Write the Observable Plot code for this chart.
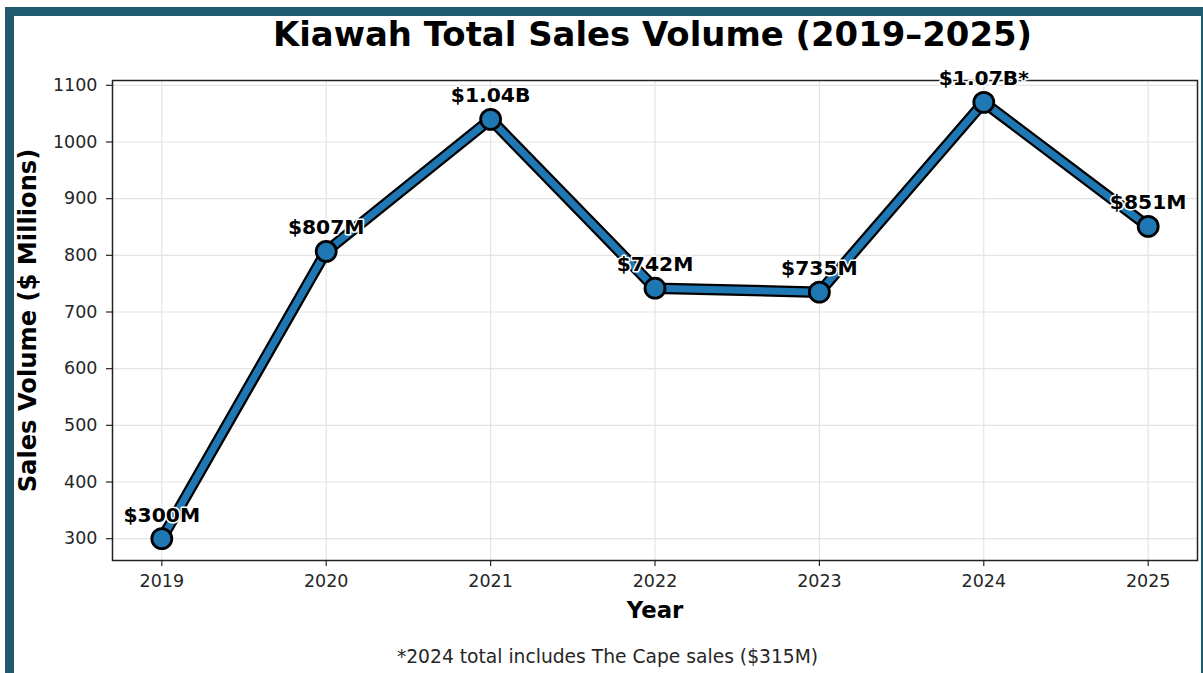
<!DOCTYPE html>
<html>
<head>
<meta charset="utf-8">
<script src="https://cdn.jsdelivr.net/npm/d3@7"></script>
<script src="https://cdn.jsdelivr.net/npm/@observablehq/plot@0.6"></script>
<style>
  html, body { margin: 0; padding: 0; background: #fff; overflow: hidden; }
  #card {
    position: absolute; left: 5px; top: 7px;
    width: 1205px; height: 720px; box-sizing: border-box;
    border: 9px solid #1f5a6e; background: #fff;
    font-family: "DejaVu Sans", sans-serif;
  }
  #title {
    margin: 0; padding-left: 90px; height: 38px; line-height: 38px;
    text-align: center; font-size: 33.9px; font-weight: bold; color: #000;
  }
  #chart svg { display: block; }
  #note {
    margin-top: 11px; height: 24px; line-height: 24px;
    text-align: center; font-size: 18.7px; color: #262626;
  }
</style>
</head>
<body>
<div id="card">
  <div id="title">Kiawah Total Sales Volume (2019–2025)</div>
  <div id="chart"></div>
  <div id="note">*2024 total includes The Cape sales ($315M)</div>
</div>
<script>
const years = [2019, 2020, 2021, 2022, 2023, 2024, 2025];
const volumes = [300, 807, 1040, 742, 735, 1070, 851];
const pointLabels = ["$300M", "$807M", "$1.04B", "$742M", "$735M", "$1.07B*", "$851M"];
const yTicks = [300, 400, 500, 600, 700, 800, 900, 1000, 1100];
const xTitle = "Year";
const yTitle = "Sales Volume ($ Millions)";

const data = years.map((year, i) => ({year, volume: volumes[i], label: pointLabels[i]}));

const chart = Plot.plot({
  width: 1187,
  height: 580,
  marginTop: 26,
  marginBottom: 74,
  marginLeft: 98,
  marginRight: 4,
  style: {fontFamily: "DejaVu Sans, sans-serif", color: "#262626", background: "transparent"},
  x: {domain: [2018.7, 2025.3]},
  y: {domain: [261.5, 1108.5]},
  marks: [
    Plot.gridX(years, {stroke: "#e4e4e4", strokeOpacity: 1, strokeWidth: 1.2}),
    Plot.gridY(yTicks, {stroke: "#e4e4e4", strokeOpacity: 1, strokeWidth: 1.2}),
    Plot.axisX(years, {tickSize: 6, tickPadding: 8, tickFormat: "d", fontSize: 17.5, label: null, strokeWidth: 1.2}),
    Plot.axisY(yTicks, {tickSize: 6, tickPadding: 9, tickFormat: "d", fontSize: 17.5, label: null, strokeWidth: 1.2}),
    Plot.line(data, {x: "year", y: "volume", stroke: "#000", strokeWidth: 11.5, strokeLinejoin: "round"}),
    Plot.line(data, {x: "year", y: "volume", stroke: "#1f77b4", strokeWidth: 7, strokeLinejoin: "round"}),
    Plot.dot(data, {x: "year", y: "volume", r: 10, fill: "#1f77b4", stroke: "#000", strokeWidth: 2.8}),
    Plot.frame({stroke: "#222", strokeWidth: 1.5}),
    Plot.text(data, {x: "year", y: "volume", text: "label", dy: -17, lineAnchor: "bottom",
      fontSize: 20.3, fontWeight: "bold", fill: "#000", stroke: "#fff", strokeWidth: 3}),
    Plot.text([yTitle], {text: d => d, frameAnchor: "left", rotate: -90, dx: -84,
      fontSize: 24.2, fontWeight: "bold", fill: "#000", textAnchor: "middle", lineAnchor: "middle"}),
    Plot.text([xTitle], {text: d => d, frameAnchor: "bottom", dy: 50,
      fontSize: 22.8, fontWeight: "bold", fill: "#000", textAnchor: "middle", lineAnchor: "middle"})
  ]
});
document.getElementById("chart").appendChild(chart);
</script>
</body>
</html>
